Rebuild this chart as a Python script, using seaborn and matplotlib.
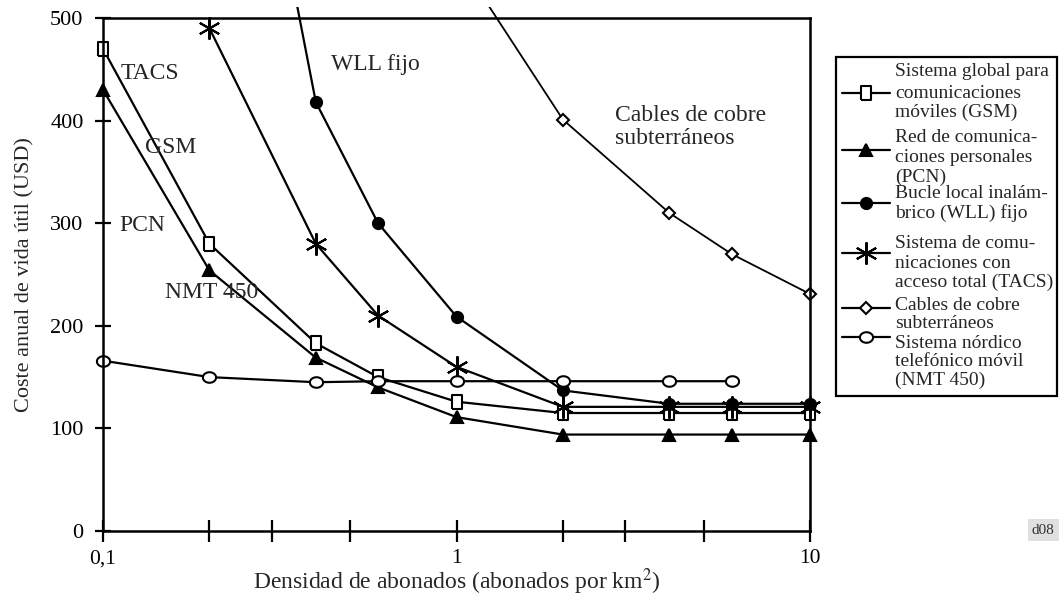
import matplotlib
matplotlib.use("Agg")
import matplotlib.pyplot as plt
import matplotlib.patches as mpatches
from matplotlib.lines import Line2D
from matplotlib.ticker import FixedLocator, NullFormatter
import seaborn as sns
import pandas as pd
import numpy as np

# ---------------- data ----------------
gsm_x = [0.1, 0.2, 0.4, 0.6, 1, 2, 4, 6, 10]
gsm_y = [470, 280, 183, 150, 126, 115, 115, 115, 115]

pcn_x = [0.1, 0.2, 0.4, 0.6, 1, 2, 4, 6, 10]
pcn_y = [430, 254, 169, 140, 111, 94, 94, 94, 94]

wll_x = [0.3, 0.4, 0.6, 1, 2, 4, 6, 10]
wll_y = [640, 418, 300, 209, 137, 124, 124, 124]

tacs_x = [0.2, 0.4, 0.6, 1, 2, 4, 6, 10]
tacs_y = [490, 280, 210, 160, 121, 121, 121, 121]

cobre_x = [1, 2, 4, 6, 10]
cobre_y = [560, 401, 310, 270, 231]

nmt_x = [0.1, 0.2, 0.4, 0.6, 1, 2, 4, 6]
nmt_y = [166, 150, 145, 146, 146, 146, 146, 146]

x_major = [0.1, 1, 10]
x_major_labels = ["0,1", "1", "10"]
x_minor = [0.2, 0.3, 0.5, 2, 3, 5]
y_ticks = [0, 100, 200, 300, 400, 500]

legend_texts = [
    ["Sistema global para", "comunicaciones", "móviles (GSM)"],
    ["Red de comunica-", "ciones personales", "(PCN)"],
    ["Bucle local inalám-", "brico (WLL) fijo"],
    ["Sistema de comu-", "nicaciones con", "acceso total (TACS)"],
    ["Cables de cobre", "subterráneos"],
    ["Sistema nórdico", "telefónico móvil", "(NMT 450)"],
]

# ---------------- style ----------------
sns.set_style("white")
plt.rcParams["font.family"] = ["Liberation Serif", "DejaVu Serif"]
plt.rcParams["mathtext.fontset"] = "stix"

W, H = 1059, 597
fig = plt.figure(figsize=(W / 100, H / 100), dpi=100)
ax = fig.add_axes([103 / W, (H - 531) / H, 707 / W, 513 / H])

def fx(px):
    return px / W

def fy(py):
    return 1 - py / H

star = (6, 2, 0)
tall_square = [(-0.36, -0.5), (0.36, -0.5), (0.36, 0.5), (-0.36, 0.5), (-0.36, -0.5)]
_t = np.linspace(0, 2 * np.pi, 33)
flat_ellipse = list(zip(0.5 * np.cos(_t), 0.4 * np.sin(_t)))

series = [
    (gsm_x, gsm_y, dict(marker=tall_square, markersize=10, markerfacecolor="white", lw=1.6)),
    (pcn_x, pcn_y, dict(marker="^", markersize=8, markerfacecolor="black", lw=1.6)),
    (wll_x, wll_y, dict(marker="o", markersize=8, markerfacecolor="black", lw=1.6)),
    (tacs_x, tacs_y, dict(marker=star, markersize=16, markerfacecolor="black", lw=1.6)),
    (cobre_x, cobre_y, dict(marker="D", markersize=6.5, markerfacecolor="white", lw=1.3)),
    (nmt_x, nmt_y, dict(marker=flat_ellipse, markersize=9.5, markerfacecolor="white", lw=1.6)),
]

clip_rect = mpatches.Rectangle((-0.05, -0.05), 1.1, 1.072, transform=ax.transAxes,
                               facecolor="none", edgecolor="none")
for xs, ys, kw in series:
    df = pd.DataFrame({"x": xs, "y": ys})
    n0 = len(ax.lines)
    sns.lineplot(data=df, x="x", y="y", ax=ax, color="black",
                 markeredgecolor="black", markeredgewidth=1.5, **kw)
    for ln in ax.lines[n0:]:
        ln.set_clip_path(clip_rect)

ax.set_xscale("log")
ax.set_xlim(0.1, 10)
ax.set_ylim(0, 500)

ax.xaxis.set_major_locator(FixedLocator(x_major))
ax.set_xticklabels(x_major_labels)
ax.xaxis.set_minor_locator(FixedLocator(x_minor))
ax.xaxis.set_minor_formatter(NullFormatter())
ax.set_yticks(y_ticks)
ax.set_yticklabels([str(v) for v in y_ticks])

ax.tick_params(axis="x", which="both", bottom=True, direction="inout", length=16, width=1.6,
               labelsize=15.5, pad=5, colors="black")
ax.tick_params(axis="y", which="major", left=True, direction="inout", length=12, width=1.6,
               labelsize=16, pad=8, colors="black")
for s in ax.spines.values():
    s.set_linewidth(1.8)
    s.set_color("black")

ax.set_xlabel("Densidad de abonados (abonados por km$^2$)", fontsize=17, labelpad=-1)
ax.set_ylabel("Coste anual de vida útil (USD)", fontsize=16, labelpad=11)

# in-plot labels
ax.text(0.136, 446, "TACS", fontsize=17, ha="center", va="center")
ax.text(0.155, 374, "GSM", fontsize=17, ha="center", va="center")
ax.text(0.129, 298, "PCN", fontsize=17, ha="center", va="center")
ax.text(0.203, 232, "NMT 450", fontsize=17, ha="center", va="center")
ax.text(0.588, 455, "WLL fijo", fontsize=17, ha="center", va="center")
ax.text(2.8, 394, "Cables de cobre\nsubterráneos", fontsize=17, ha="left",
        va="center", linespacing=1.15)

# manual legend
fig.add_artist(mpatches.Rectangle((fx(836), fy(396)), fx(1057) - fx(836), fy(57) - fy(396),
                                  transform=fig.transFigure, facecolor="white",
                                  edgecolor="black", lw=1.6))
line_y = [[72, 93, 112], [138, 158, 177], [194, 213], [243, 263, 282], [305, 324], [343, 362, 380]]
marker_y = [93, 150, 203, 253, 308, 337]
for (xs, ys, kw), texts, lys, my in zip(series, legend_texts, line_y, marker_y):
    fig.add_artist(Line2D([fx(842), fx(866), fx(890)], [fy(my)] * 3, transform=fig.transFigure,
                          color="black", lw=1.6, marker=kw["marker"],
                          markersize=kw["markersize"], markerfacecolor=kw["markerfacecolor"],
                          markeredgecolor="black", markeredgewidth=1.5, markevery=[1]))
    for t, yy in zip(texts, lys):
        fig.text(fx(895), fy(yy), t, fontsize=14, ha="left", va="center")

fig.text(fx(1043), fy(530), "d08", fontsize=11, ha="center", va="center", color="#333333",
         bbox=dict(facecolor="#e0e0e0", edgecolor="none", pad=3))

fig.savefig("out.png", dpi=100)
